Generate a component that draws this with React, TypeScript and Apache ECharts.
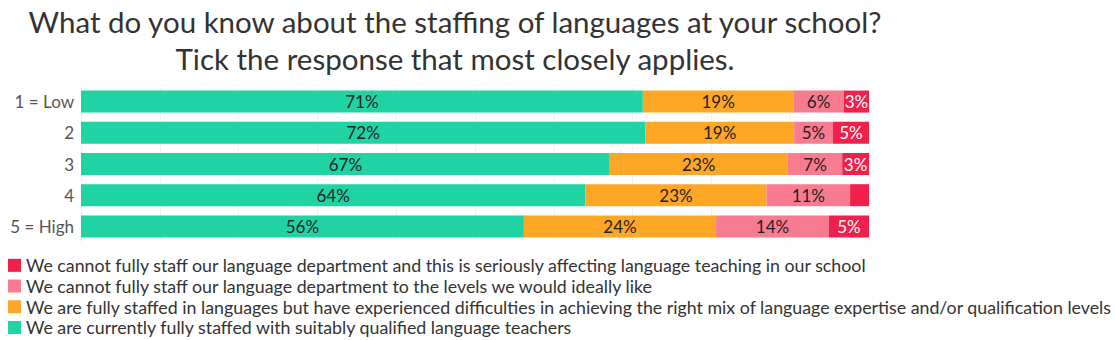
import React, { useEffect, useRef } from "react";
import * as echarts from "echarts";

const categories = ["1 = Low", "2", "3", "4", "5 = High"];
const seriesNames = [
  "We are currently fully staffed with suitably qualified language teachers",
  "We are fully staffed in languages but have experienced difficulties in achieving the right mix of language expertise and/or qualification levels",
  "We cannot fully staff our language department to the levels we would ideally like",
  "We cannot fully staff our language department and this is seriously affecting language teaching in our school",
];
const fullyStaffed = [71.3, 71.6, 67.1, 64.0, 56.2];
const mixDifficulties = [19.1, 18.9, 22.6, 23.0, 24.4];
const cannotIdeal = [6.4, 4.9, 6.9, 10.6, 14.3];
const cannotSerious = [3.2, 4.6, 3.4, 2.4, 5.1];
const colors = ["#1fd3a5", "#fea626", "#f97b90", "#f1204b"];
const labelColors = ["#222", "#222", "#222", "#fff"];

export default function App() {
  const ref = useRef<HTMLDivElement>(null);
  useEffect(() => {
    const chart = echarts.init(ref.current!, null, { renderer: "svg" });
    const data = [fullyStaffed, mixDifficulties, cannotIdeal, cannotSerious];
    chart.setOption({
      animation: false,
      textStyle: { fontFamily: "Lato" },
      title: {
        text: "What do you know about the staffing of languages at your school?\nTick the response that most closely applies.",
        left: 450,
        top: -2,
        textAlign: "center",
        textStyle: {
          fontFamily: "Lato",
          fontSize: 29.5,
          lineHeight: 37,
          fontWeight: "normal",
          color: "#333",
        },
      },
      legend: {
        orient: "vertical",
        left: 8,
        top: 255,
        height: 120,
        padding: 0,
        itemWidth: 13,
        itemHeight: 13,
        itemGap: 0,
        icon: "rect",
        data: [...seriesNames].reverse(),
        textStyle: { fontFamily: "Lato", fontSize: 17.8, lineHeight: 20.7, color: "#333" },
      },
      grid: { left: 81, right: 246, top: 86, bottom: 98 },
      xAxis: {
        type: "value",
        min: 0,
        max: 100,
        interval: 10,
        axisLabel: { show: false },
        axisLine: { show: false },
        axisTick: { show: false },
        splitLine: { show: true, lineStyle: { color: "#f3f3f3", width: 1 } },
      },
      yAxis: {
        type: "category",
        data: categories,
        inverse: true,
        axisTick: { show: false },
        axisLine: { show: true, lineStyle: { color: "#f0f0f0" } },
        axisLabel: { fontFamily: "Lato", fontSize: 17, color: "#555", margin: 7 },
      },
      series: seriesNames.map((name, i) => ({
        name,
        type: "bar",
        stack: "total",
        barWidth: 22,
        data: data[i],
        itemStyle: { color: colors[i] },
        label: {
          show: true,
          position: "inside",
          fontFamily: "Lato",
          fontSize: 17,
          color: labelColors[i],
          formatter: (p: any) => (p.value < 3 ? "" : Math.round(p.value) + "%"),
        },
      })),
    });
    return () => chart.dispose();
  }, []);
  return (
    <div
      ref={ref}
      style={{ position: "absolute", left: 0, top: 0, width: 1115, height: 340 }}
    />
  );
}
